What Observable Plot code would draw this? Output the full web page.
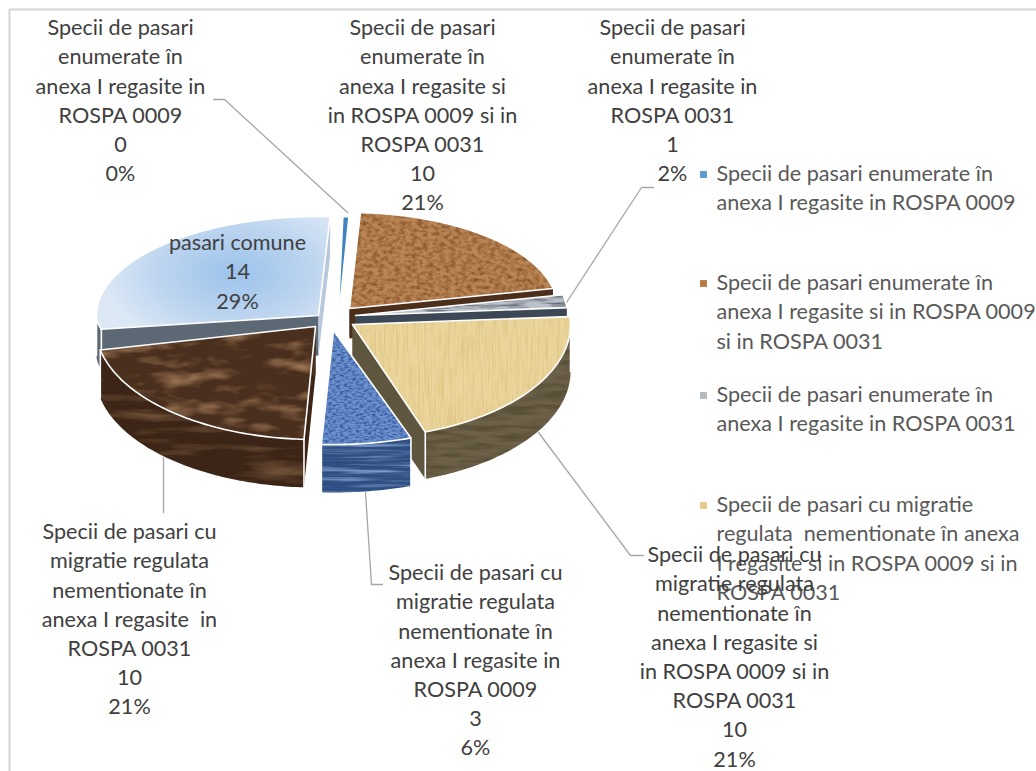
<!DOCTYPE html>
<html>
<head>
<meta charset="utf-8">
<script src="https://cdn.jsdelivr.net/npm/d3@7"></script>
<script src="https://cdn.jsdelivr.net/npm/@observablehq/plot@0.6"></script>
<style>html,body{margin:0;padding:0;background:#fff}svg{display:block}</style>
</head>
<body>
<div id="chart"></div>
<script>
// ---- data ----
const legendLabels = [
  "Specii de pasari enumerate în\nanexa I regasite in ROSPA 0009",
  "Specii de pasari enumerate în\nanexa I regasite si in ROSPA 0009\nsi in ROSPA 0031",
  "Specii de pasari enumerate în\nanexa I regasite in ROSPA 0031",
  "Specii de pasari cu migratie\nregulata  nementionate în anexa\nI regasite si in ROSPA 0009 si in\nROSPA 0031"
];
const dataLabels = [
  "Specii de pasari\nenumerate în\nanexa I regasite in\nROSPA 0009",
  "Specii de pasari\nenumerate în\nanexa I regasite si\nin ROSPA 0009 si in\nROSPA 0031",
  "Specii de pasari\nenumerate în\nanexa I regasite in\nROSPA 0031",
  "Specii de pasari cu\nmigratie regulata\nnementionate în\nanexa I regasite si\nin ROSPA 0009 si in\nROSPA 0031",
  "Specii de pasari cu\nmigratie regulata\nnementionate în\nanexa I regasite in\nROSPA 0009",
  "Specii de pasari cu\nmigratie regulata\nnementionate în\nanexa I regasite  in\nROSPA 0031",
  "pasari comune"
];
const values   = [0, 10, 1, 10, 3, 10, 14];
const percents = [0, 21, 2, 21, 6, 21, 29];

// ---- layout and style ----
const W = 1036, H = 771;
const FONT = "Lato, 'Open Sans', sans-serif";
const FS = 21.6, LH = 29.2;
const startAngle = 3, zeroSliceAngle = 1.6;
// exploded apex of every slice and its radii (x, y above centre, y below centre), depth
const apexX = [337, 349, 355, 352, 333, 315, 318];
const apexY = [327, 308, 315, 324, 330, 326, 315];
const radX  = [220, 208, 212, 218, 232, 220, 222];
const radUp = [111,  96, 100, 100, 100, 100,  99];
const radDn = [100, 100, 100, 114, 114, 113,  66];
const depth = [  0,  30,  16,  47,  48,  48,  40];
const topFill  = ["#3f84bd", "#bb8655", "#bcc0c8", "#ebd59c", "#6b92cf", "#4a2f1e", "url(#lightBlue)"];
const sideFill = ["#3f84bd", "#4b2f1b", "#3d4856", "#6c6148", "#2f4f82", "#3c2516", "#5d6875"];
const endFill  = ["#3f84bd", "#4b2f1b", "#3d4856", "#5f5640", "#2f4f82", "#4a2f1c", "#b9c8dc"];
const topTex   = [null, "url(#texBrown)", "url(#texGray)", "url(#texYellow)", "url(#texBlue)", "url(#texDark)", null];
const sideTex  = [null, null, null, "url(#texOlive)", "url(#texStreak)", "url(#texDark2)", null];
const paintOrder = [6, 0, 1, 2, 3, 5, 4];

const labelX = [120, 422, 672, 734, 475, 129, 237];
const labelY = [14, 14, 14, 541, 559, 518, 229];
const legendX = 716, swatchX = 703;
const legendY = [160, 269, 381, 491];
const swatchY = [174, 283, 395, 505];
const swatchFill = ["#5b9bd5", "#b97a45", "#b6b9bf", "#e6c98a"];
const leaders = [
  [[213, 99], [224, 99], [347, 212]],
  [[653, 187], [641, 187], [566, 302]],
  [[538, 432], [630, 555], [643, 555]],
  [[365, 492], [371, 584], [382, 584]],
  [[163, 457], [163, 512]]
];
const frame = [[9, H], [9, 9], [W, 9]];

// ---- geometry from the values ----
const rad = d => d * Math.PI / 180;
const total = d3.sum(values);
let cursor = startAngle;
const slices = values.map((v, i) => {
  const span = v / total * 360;
  const a0 = v === 0 ? cursor - zeroSliceAngle : cursor;
  const a1 = cursor + span;
  cursor = a1;
  return {i, a0, a1};
});
function rim(i, t) {
  const c = Math.cos(rad(t)), s = Math.sin(rad(t));
  return [apexX[i] + radX[i] * s, apexY[i] - (c >= 0 ? radUp[i] : radDn[i]) * c];
}
function arc(i, a, b) {
  const n = Math.max(2, Math.ceil(b - a));
  return d3.range(n + 1).map(k => rim(i, a + (b - a) * k / n));
}
const down = (p, d) => [p[0], p[1] + d];
const poly = (pts, fill, imageFilter, stroke) => Plot.line(pts, {
  x: d => d[0], y: d => d[1], fill, imageFilter: imageFilter || undefined,
  stroke: stroke || "none", strokeWidth: stroke ? 1.6 : undefined, strokeLinejoin: "round"
});

const pieMarks = [];
for (const idx of paintOrder) {
  const {i, a0, a1} = slices[idx];
  const d = depth[i];
  const apex = [apexX[i], apexY[i]];
  const top = [apex, ...arc(i, a0, a1), apex];
  if (d > 0) {
    const A = rim(i, a0), B = rim(i, a1);
    pieMarks.push(poly([apex, A, down(A, d), down(apex, d), apex], sideFill[i], null, null));
    pieMarks.push(poly([apex, B, down(B, d), down(apex, d), apex], endFill[i], null, null));
    const w0 = Math.max(a0, 90), w1 = Math.min(a1, 270);
    if (w1 > w0) {
      const front = arc(i, w0, w1);
      const wall = [...front, ...front.slice().reverse().map(p => down(p, d)), front[0]];
      pieMarks.push(poly(wall, sideFill[i], sideTex[i], null));
      pieMarks.push(poly([front[0], down(front[0], d)], "none", null, "#ffffff"));
      pieMarks.push(poly([front[front.length - 1], down(front[front.length - 1], d)], "none", null, "#ffffff"));
    }
  }
  pieMarks.push(poly(top, topFill[i], topTex[i], null));
  pieMarks.push(poly(top, "none", null, "#ffffff"));
}

// ---- table rows for the text marks ----
const labelRows = dataLabels.map((t, i) => ({
  text: `${t}\n${values[i]}\n${percents[i]}%`, x: labelX[i], y: labelY[i]
}));
const legendRows = legendLabels.map((text, i) => ({text, x: legendX, y: legendY[i]}));
const swatchRows = swatchFill.map((fill, i) => ({fill, x: swatchX, y: swatchY[i]}));

const chart = Plot.plot({
  width: W, height: H,
  margin: 0,
  x: {type: "linear", domain: [0, W], range: [0, W], axis: null},
  y: {type: "linear", domain: [0, H], range: [0, H], axis: null},
  style: {background: "#ffffff", fontFamily: FONT},
  marks: [
    Plot.line(frame, {x: d => d[0], y: d => d[1], stroke: "#d6d6d6", strokeWidth: 2}),
    ...leaders.map(l => Plot.line(l, {x: d => d[0], y: d => d[1], stroke: "#a6a6a6", strokeWidth: 1.3})),
    ...pieMarks,
    Plot.dot(swatchRows, {x: "x", y: "y", fill: "fill", symbol: "square", r: 3.9, stroke: "none"}),
    Plot.text(legendRows, {x: "x", y: "y", text: "text", textAnchor: "start", lineAnchor: "top",
      fontSize: FS, lineHeight: LH / FS, fill: "#595959", fontFamily: FONT}),
    Plot.text(labelRows, {x: "x", y: "y", text: "text", textAnchor: "middle", lineAnchor: "top",
      fontSize: FS, lineHeight: LH / FS, fill: "#404040", fontFamily: FONT})
  ]
});

function tex(id, freq, seed, r, g, b, amp, off) {
  return `<filter id="${id}" x="0" y="0" width="1" height="1" color-interpolation-filters="sRGB">
    <feTurbulence type="fractalNoise" baseFrequency="${freq}" numOctaves="3" seed="${seed}" result="n"/>
    <feColorMatrix in="n" type="matrix" values="0 0 0 0 ${r} 0 0 0 0 ${g} 0 0 0 0 ${b} ${amp} 0 0 0 ${off}" result="c"/>
    <feComposite in="c" in2="SourceAlpha" operator="in" result="t"/>
    <feMerge><feMergeNode in="SourceGraphic"/><feMergeNode in="t"/></feMerge>
  </filter>`;
}
chart.insertAdjacentHTML("afterbegin", `<defs>
  <radialGradient id="lightBlue" gradientUnits="userSpaceOnUse" cx="235" cy="272" r="135" gradientTransform="translate(235 272) scale(1 0.6) translate(-235 -272)">
    <stop offset="0" stop-color="#9cc3ec"/><stop offset="0.55" stop-color="#bcd4ef"/><stop offset="1" stop-color="#dce8f6"/>
  </radialGradient>
  ${tex("texBrown", "0.18 0.28", 3, 0.45, 0.25, 0.1, 1.5, -0.55)}
  ${tex("texGray", "0.04 0.45", 5, 0.3, 0.34, 0.4, 2, -0.85)}
  ${tex("texYellow", "0.5 0.03", 7, 0.8, 0.68, 0.38, 1, -0.42)}
  ${tex("texBlue", "0.25 0.5", 9, 0.15, 0.27, 0.55, 2, -0.8)}
  ${tex("texDark", "0.025 0.07", 11, 0.6, 0.45, 0.32, 2.6, -1.25)}
  ${tex("texDark2", "0.012 0.09", 13, 0.5, 0.37, 0.26, 2.2, -1.05)}
  ${tex("texOlive", "0.03 0.2", 15, 0.25, 0.21, 0.12, 1.2, -0.45)}
  ${tex("texStreak", "0.01 0.3", 17, 0.6, 0.7, 0.88, 2.2, -1)}
</defs>`);
document.getElementById("chart").appendChild(chart);
</script>
</body>
</html>
